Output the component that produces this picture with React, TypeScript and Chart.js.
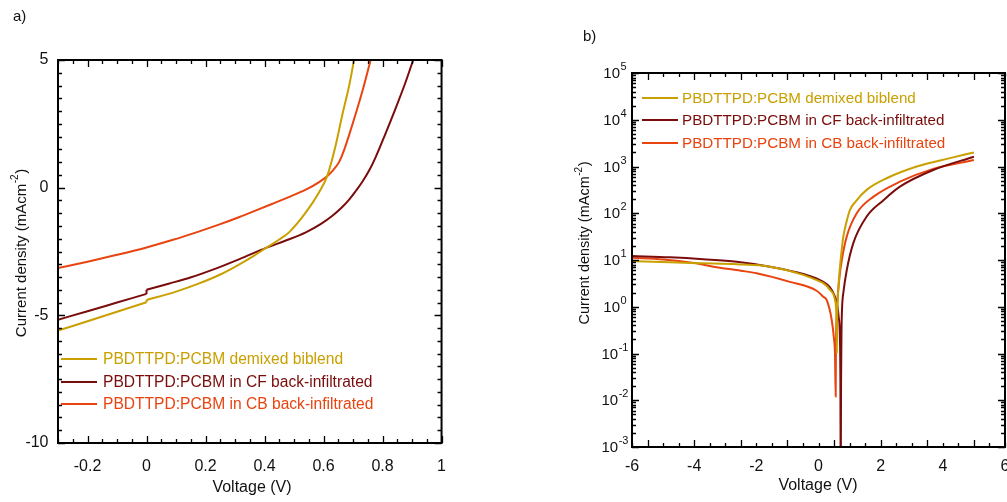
import React, { useEffect, useRef } from "react";
import { Chart, registerables } from "chart.js";

Chart.register(...registerables);

// ---------------- Panel a data (J–V, linear) ----------------
// a repeated voltage (0, 0) marks the small measurement step at 0 V
const demixedV_a = [-0.3, -0.2, -0.1, 0, 0, 0.1, 0.174, 0.25, 0.315, 0.365, 0.405, 0.45, 0.483, 0.54, 0.585, 0.613, 0.641, 0.663, 0.686, 0.703];
const demixedJ_a = [-5.6, -5.23, -4.86, -4.49, -4.4, -4.07, -3.77, -3.4, -3.0, -2.66, -2.36, -2.03, -1.75, -0.97, -0.18, 0.47, 1.65, 2.82, 3.95, 4.97];

const cfV_a = [-0.3, -0.2, -0.1, 0, 0, 0.075, 0.151, 0.25, 0.315, 0.405, 0.47, 0.54, 0.59, 0.63, 0.66, 0.686, 0.71, 0.731, 0.755, 0.776, 0.81, 0.844, 0.877, 0.903];
const cfJ_a = [-5.17, -4.84, -4.5, -4.16, -4.0, -3.76, -3.51, -3.1, -2.8, -2.36, -2.08, -1.75, -1.43, -1.1, -0.8, -0.48, -0.12, 0.22, 0.68, 1.18, 2.12, 3.1, 4.1, 4.97];

const cbV_a = [-0.3, -0.2, -0.1, 0, 0.087, 0.174, 0.25, 0.315, 0.365, 0.427, 0.49, 0.54, 0.585, 0.613, 0.632, 0.652, 0.669, 0.686, 0.714, 0.737, 0.759];
const cbJ_a = [-3.15, -2.9, -2.63, -2.34, -2.05, -1.73, -1.43, -1.15, -0.92, -0.63, -0.33, -0.08, 0.22, 0.46, 0.68, 0.99, 1.45, 2.04, 3.08, 4.0, 4.97];

// ---------------- Panel b data (|J|–V, log) ----------------
const demixedV_b = [-6, -4.78, -3.71, -2.63, -1.56, -0.49, -0.06, 0.155, 0.37, 0.53, 0.57, 0.586, 0.59, 0.6, 0.64, 0.69, 0.74, 0.8, 0.9, 1.01, 1.2, 1.55, 2.19, 3.16, 4.23, 5];
const demixedJ_b = [9.5, 8.9, 8.5, 8.1, 7.2, 4.8, 3.7, 3.2, 2.3, 1.4, 0.8, 0.3, 0.1, 0.5, 2.5, 7, 15, 32, 65, 117, 180, 316, 560, 1000, 1510, 2000];

const cfV_b = [-6, -4.78, -3.71, -2.63, -1.56, -0.49, 0.155, 0.37, 0.53, 0.6, 0.65, 0.69, 0.705, 0.715, 0.725, 0.74, 0.76, 0.8, 0.91, 1.12, 1.55, 2.09, 2.62, 3.69, 5];
const cfJ_b = [12.2, 11.4, 10.4, 9.2, 7.2, 5.0, 3.4, 2.6, 1.64, 1.1, 0.6, 0.2, 0.02, 0.0001, 0.02, 0.3, 1.0, 2.0, 6.1, 23, 85, 190, 370, 840, 1620];

const cbV_b = [-6, -5, -4, -3.38, -2.5, -1.99, -0.92, -0.06, 0.155, 0.265, 0.425, 0.5, 0.53, 0.553, 0.56, 0.6, 0.67, 0.75, 0.91, 1.23, 1.76, 2.62, 3.69, 5];
const cbJ_b = [11.2, 10.3, 8.6, 7.2, 5.9, 5.2, 3.4, 2.2, 1.64, 1.38, 0.52, 0.2, 0.1, 0.012, 0.1, 1.0, 4.0, 10, 32, 100, 224, 473, 890, 1380];

// ---------------- Labels & ticks ----------------
const seriesLabels = [
  "PBDTTPD:PCBM demixed biblend",
  "PBDTTPD:PCBM in CF back-infiltrated",
  "PBDTTPD:PCBM in CB back-infiltrated",
];
const seriesColors = ["#C9A000", "#7A0C0C", "#E84410"];

const xTicksA = [-0.2, 0, 0.2, 0.4, 0.6, 0.8, 1];
const xTickLabelsA = ["-0.2", "0", "0.2", "0.4", "0.6", "0.8", "1"];
const yTicksA = [-10, -5, 0, 5];
const yTickLabelsA = ["-10", "-5", "0", "5"];

const xTicksB = [-6, -4, -2, 0, 2, 4, 6];
const xTickLabelsB = ["-6", "-4", "-2", "0", "2", "4", "6"];
const yTicksB = [1e-3, 1e-2, 1e-1, 1e0, 1e1, 1e2, 1e3, 1e4, 1e5];
const yTickBaseB = "10";
const yTickExponentsB = ["-3", "-2", "-1", "0", "1", "2", "3", "4", "5"];

const xTitle = "Voltage (V)";
const yTitleMain = "Current density (mAcm";
const yTitleSup = "-2";
const yTitleEnd = ")";
const panelLabels = ["a)", "b)"];

const FONT = "'Liberation Sans', Arial, Helvetica, sans-serif";
const TEXT = "#111";

Chart.defaults.font.family = FONT;
Chart.defaults.color = TEXT;

function lineStyle(color: string) {
  return {
    borderColor: color,
    backgroundColor: color,
    borderWidth: 2,
    pointRadius: 0,
    fill: false,
  };
}

// one smooth curve per series; a repeated voltage splits it and the step
// between the two readings is drawn as its own short segment
function mkDatasets(V: number[], J: number[], color: string, label: string) {
  const data: { x: number; y: number | null }[] = [];
  const steps: any[] = [];
  V.forEach((v, i) => {
    if (i > 0 && V[i - 1] === v) {
      data.push({ x: v, y: null });
      steps.push({
        label: label + " step",
        data: [
          { x: v, y: J[i - 1] },
          { x: v, y: J[i] },
        ],
        ...lineStyle(color),
        tension: 0,
      });
    }
    data.push({ x: v, y: J[i] });
  });
  return [
    {
      label,
      data,
      ...lineStyle(color),
      spanGaps: false,
      cubicInterpolationMode: "monotone" as const,
    },
    ...steps,
  ];
}

function drawYTitle(ctx: CanvasRenderingContext2D, cx: number, cy: number, size: number) {
  ctx.save();
  ctx.translate(cx, cy);
  ctx.rotate(-Math.PI / 2);
  const main = `${size}px ${FONT}`;
  const sup = `${Math.round(size * 0.68)}px ${FONT}`;
  ctx.font = main;
  const w1 = ctx.measureText(yTitleMain).width;
  const w3 = ctx.measureText(yTitleEnd).width;
  ctx.font = sup;
  const w2 = ctx.measureText(yTitleSup).width;
  const total = w1 + w2 + w3 + 1;
  let x = -total / 2;
  ctx.fillStyle = TEXT;
  ctx.textBaseline = "middle";
  ctx.textAlign = "left";
  ctx.font = main;
  ctx.fillText(yTitleMain, x, 0);
  x += w1;
  ctx.font = sup;
  ctx.fillText(yTitleSup, x + 0.5, -size * 0.42);
  x += w2 + 1;
  ctx.font = main;
  ctx.fillText(yTitleEnd, x, 0);
  ctx.restore();
}

function drawText(ctx: CanvasRenderingContext2D, t: string, x: number, y: number, size: number, align: CanvasTextAlign, color = TEXT) {
  ctx.save();
  ctx.font = `${size}px ${FONT}`;
  ctx.fillStyle = color;
  ctx.textAlign = align;
  ctx.textBaseline = "middle";
  ctx.fillText(t, x, y);
  ctx.restore();
}

function drawLegend(ctx: CanvasRenderingContext2D, x0: number, x1: number, xt: number, rows: number[], size: number) {
  ctx.save();
  seriesLabels.forEach((lab, i) => {
    ctx.strokeStyle = seriesColors[i];
    ctx.lineWidth = 2;
    ctx.beginPath();
    ctx.moveTo(x0, rows[i]);
    ctx.lineTo(x1, rows[i]);
    ctx.stroke();
    ctx.font = `${size}px ${FONT}`;
    ctx.fillStyle = seriesColors[i];
    ctx.textAlign = "left";
    ctx.textBaseline = "middle";
    ctx.fillText(lab, xt, rows[i] + 1);
  });
  ctx.restore();
}

const panelAPlugin = {
  id: "panelA",
  afterDraw(chart: any) {
    const { ctx, chartArea: ca } = chart;
    const xs = chart.scales.x;
    const ys = chart.scales.y;
    ctx.save();
    ctx.strokeStyle = "#000";
    ctx.lineWidth = 1.3;
    ctx.beginPath();
    for (let k = -6; k <= 20; k++) {
      const px = Math.round(xs.getPixelForValue(k * 0.05)) + 0.5;
      const len = k % 4 === 0 ? 7 : 4;
      ctx.moveTo(px, ca.bottom);
      ctx.lineTo(px, ca.bottom - len);
      ctx.moveTo(px, ca.top);
      ctx.lineTo(px, ca.top + len);
    }
    for (let k = -20; k <= 10; k++) {
      const py = Math.round(ys.getPixelForValue(k * 0.5)) + 0.5;
      const len = k % 10 === 0 ? 7 : 4;
      ctx.moveTo(ca.left, py);
      ctx.lineTo(ca.left + len, py);
      ctx.moveTo(ca.right, py);
      ctx.lineTo(ca.right - len, py);
    }
    ctx.stroke();
    ctx.lineWidth = 2;
    ctx.strokeRect(ca.left, ca.top, ca.right - ca.left, ca.bottom - ca.top);
    ctx.restore();

    drawLegend(ctx, 61, 97, 103, [359, 382, 404], 15.6);
    drawText(ctx, xTitle, 252, 488, 16, "center");
    drawYTitle(ctx, 22, 253, 15);
    drawText(ctx, panelLabels[0], 13, 17, 15, "left");
  },
};

const panelBPlugin = {
  id: "panelB",
  afterDraw(chart: any) {
    const { ctx, chartArea: ca } = chart;
    const xs = chart.scales.x;
    const ys = chart.scales.y;
    ctx.save();
    ctx.strokeStyle = "#000";
    ctx.lineWidth = 1.3;
    ctx.beginPath();
    for (let k = -12; k <= 12; k++) {
      const px = Math.round(xs.getPixelForValue(k * 0.5)) + 0.5;
      const len = (k + 11) % 3 === 0 ? 7 : 4;
      ctx.moveTo(px, ca.bottom);
      ctx.lineTo(px, ca.bottom - len);
      ctx.moveTo(px, ca.top);
      ctx.lineTo(px, ca.top + len);
    }
    for (let d = -3; d <= 5; d++) {
      for (let m = 1; m <= 9; m++) {
        if (d === 5 && m > 1) break;
        const py = Math.round(ys.getPixelForValue(m * Math.pow(10, d))) + 0.5;
        const len = m === 1 ? 7 : 4;
        ctx.moveTo(ca.left, py);
        ctx.lineTo(ca.left + len, py);
        ctx.moveTo(ca.right, py);
        ctx.lineTo(ca.right - len, py);
      }
    }
    ctx.stroke();
    ctx.lineWidth = 2;
    ctx.strokeRect(ca.left, ca.top, ca.right - ca.left, ca.bottom - ca.top);

    // log tick labels with superscripts
    const base = `15px ${FONT}`;
    const sup = `11px ${FONT}`;
    ctx.fillStyle = TEXT;
    ctx.textAlign = "left";
    ctx.textBaseline = "middle";
    yTicksB.forEach((v, i) => {
      const py = ys.getPixelForValue(v);
      ctx.font = base;
      const wb = ctx.measureText(yTickBaseB).width;
      ctx.font = sup;
      const ws = ctx.measureText(yTickExponentsB[i]).width;
      const x = 55 - (wb + ws + 0.5) / 2;
      ctx.font = base;
      ctx.fillText(yTickBaseB, x, py + 1);
      ctx.font = sup;
      ctx.fillText(yTickExponentsB[i], x + wb + 0.5, py - 6);
    });
    ctx.restore();

    drawLegend(ctx, 82, 118, 122, [98, 120, 143], 15.2);
    drawText(ctx, xTitle, 258, 486, 16, "center");
    drawYTitle(ctx, 25, 243, 14.5);
    drawText(ctx, panelLabels[1], 23, 37, 15, "left");
  },
};

function configA(): any {
  return {
    type: "line",
    data: {
      datasets: [
        ...mkDatasets(demixedV_a, demixedJ_a, seriesColors[0], seriesLabels[0]),
        ...mkDatasets(cfV_a, cfJ_a, seriesColors[1], seriesLabels[1]),
        ...mkDatasets(cbV_a, cbJ_a, seriesColors[2], seriesLabels[2]),
      ],
    },
    options: {
      responsive: false,
      animation: false,
      events: [],
      layout: { padding: { left: 0, right: 17, top: 60, bottom: 0 } },
      plugins: { legend: { display: false }, tooltip: { enabled: false } },
      scales: {
        x: {
          type: "linear",
          min: -0.3,
          max: 1,
          grid: { display: false, drawTicks: false },
          border: { display: false },
          afterBuildTicks: (s: any) => {
            s.ticks = xTicksA.map((v) => ({ value: v }));
          },
          afterFit: (s: any) => {
            s.height = 59;
          },
          ticks: {
            padding: 14,
            color: TEXT,
            font: { size: 16 },
            maxRotation: 0,
            autoSkip: false,
            callback: (_v: any, i: number) => xTickLabelsA[i],
          },
        },
        y: {
          type: "linear",
          min: -10,
          max: 5,
          grid: { display: false, drawTicks: false },
          border: { display: false },
          afterBuildTicks: (s: any) => {
            s.ticks = yTicksA.map((v) => ({ value: v }));
          },
          afterFit: (s: any) => {
            s.width = 58;
          },
          ticks: {
            padding: 9.5,
            color: TEXT,
            font: { size: 16 },
            autoSkip: false,
            callback: (_v: any, i: number) => yTickLabelsA[i],
          },
        },
      },
    },
    plugins: [panelAPlugin],
  };
}

function configB(): any {
  return {
    type: "line",
    data: {
      datasets: [
        ...mkDatasets(demixedV_b, demixedJ_b, seriesColors[0], seriesLabels[0]),
        ...mkDatasets(cfV_b, cfJ_b, seriesColors[1], seriesLabels[1]),
        ...mkDatasets(cbV_b, cbJ_b, seriesColors[2], seriesLabels[2]),
      ],
    },
    options: {
      responsive: false,
      animation: false,
      events: [],
      layout: { padding: { left: 0, right: 15, top: 73, bottom: 0 } },
      plugins: { legend: { display: false }, tooltip: { enabled: false } },
      scales: {
        x: {
          type: "linear",
          min: -6,
          max: 6,
          grid: { display: false, drawTicks: false },
          border: { display: false },
          afterBuildTicks: (s: any) => {
            s.ticks = xTicksB.map((v) => ({ value: v }));
          },
          afterFit: (s: any) => {
            s.height = 55;
          },
          ticks: {
            padding: 10,
            color: TEXT,
            font: { size: 16 },
            maxRotation: 0,
            autoSkip: false,
            callback: (_v: any, i: number) => xTickLabelsB[i],
          },
        },
        y: {
          type: "logarithmic",
          min: 1e-3,
          max: 1e5,
          grid: { display: false, drawTicks: false },
          border: { display: false },
          afterFit: (s: any) => {
            s.width = 72;
          },
          ticks: { display: false },
        },
      },
    },
    plugins: [panelBPlugin],
  };
}

export default function App() {
  const refA = useRef<HTMLCanvasElement>(null);
  const refB = useRef<HTMLCanvasElement>(null);
  useEffect(() => {
    const a = new Chart(refA.current as HTMLCanvasElement, configA());
    const b = new Chart(refB.current as HTMLCanvasElement, configB());
    return () => {
      a.destroy();
      b.destroy();
    };
  }, []);
  return (
    <div
      style={{
        position: "absolute",
        left: 0,
        top: 0,
        width: 1007,
        height: 502,
        overflow: "hidden",
        background: "#fff",
      }}
    >
      <canvas ref={refA} width={460} height={502} style={{ position: "absolute", left: 0, top: 0 }} />
      <canvas ref={refB} width={460} height={502} style={{ position: "absolute", left: 560, top: 0 }} />
    </div>
  );
}
